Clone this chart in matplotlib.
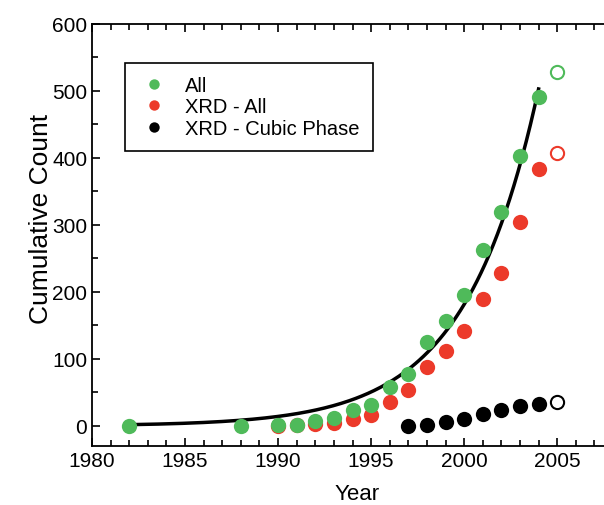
import numpy as np
import matplotlib.pyplot as plt
from matplotlib.ticker import MultipleLocator

plt.rcParams['font.family'] = ['Liberation Sans', 'DejaVu Sans']

# cumulative counts
years_all = [1982, 1988, 1990, 1991, 1992, 1993, 1994, 1995, 1996, 1997,
             1998, 1999, 2000, 2001, 2002, 2003, 2004]
count_all = [0, 0, 1, 2, 8, 12, 24, 31, 58, 78, 125, 156, 196, 262, 319, 403, 491]

years_xrd = [1990, 1991, 1992, 1993, 1994, 1995, 1996, 1997, 1998, 1999,
             2000, 2001, 2002, 2003, 2004]
count_xrd = [0, 1, 3, 5, 11, 16, 36, 53, 88, 112, 142, 189, 229, 304, 383]

years_cubic = [1997, 1998, 1999, 2000, 2001, 2002, 2003, 2004]
count_cubic = [0, 2, 6, 11, 18, 24, 30, 33]

# projected 2005 values (open symbols)
proj_year = 2005
proj_all = 528
proj_xrd = 408
proj_cubic = 35

# exponential fit to "All"
fit_start, fit_end = 1982, 2004
fit_amp, fit_rate = 503, 0.255

green = '#4fba5a'
red = '#ec3a2a'

fig = plt.figure(figsize=(6.04, 5.06), dpi=100)
ax = fig.add_axes([92/604, 1-447/506, (613-92)/604, (447-25)/506])

xf = np.linspace(fit_start, fit_end, 200)
ax.plot(xf, fit_amp*np.exp(fit_rate*(xf-fit_end)), color='black', lw=2.5, zorder=2)

ax.plot(years_all, count_all, 'o', color=green, ms=11, mec='none', label='All', zorder=4)
ax.plot(years_xrd, count_xrd, 'o', color=red, ms=11, mec='none', label='XRD - All', zorder=3)
ax.plot(years_cubic, count_cubic, 'o', color='black', ms=11, mec='none',
        label='XRD - Cubic Phase', zorder=3)

ax.plot([proj_year], [proj_all], 'o', mfc='white', mec=green, mew=1.5, ms=9.5)
ax.plot([proj_year], [proj_xrd], 'o', mfc='white', mec=red, mew=1.5, ms=9.5)
ax.plot([proj_year], [proj_cubic], 'o', mfc='white', mec='black', mew=1.5, ms=9.5)

ax.set_xlim(1980, 2008)
ax.set_ylim(-30, 600)
ax.xaxis.set_major_locator(MultipleLocator(5))
ax.xaxis.set_minor_locator(MultipleLocator(1))
ax.yaxis.set_major_locator(MultipleLocator(100))
ax.yaxis.set_minor_locator(MultipleLocator(50))
ax.tick_params(which='both', direction='in', top=True, right=True, labelsize=15, width=1.2)
ax.tick_params(which='major', length=6)
ax.tick_params(which='minor', length=4)
for s in ax.spines.values():
    s.set_linewidth(1.3)

ax.set_xlabel('Year', fontsize=16)
ax.xaxis.set_label_coords(0.509, -0.088)
ax.set_ylabel('Cumulative Count', fontsize=19)
ax.yaxis.set_label_coords(-0.075, 0.54)

leg = ax.legend(loc='upper left', bbox_to_anchor=(0.063, 0.908), borderaxespad=0,
                fontsize=14.5, markerscale=0.68, handlelength=1.6, handletextpad=0.75,
                labelspacing=0.12, borderpad=0.65, fancybox=False, framealpha=1,
                edgecolor='black')
leg.get_frame().set_linewidth(1.2)

fig.savefig('out.png', dpi=100)
